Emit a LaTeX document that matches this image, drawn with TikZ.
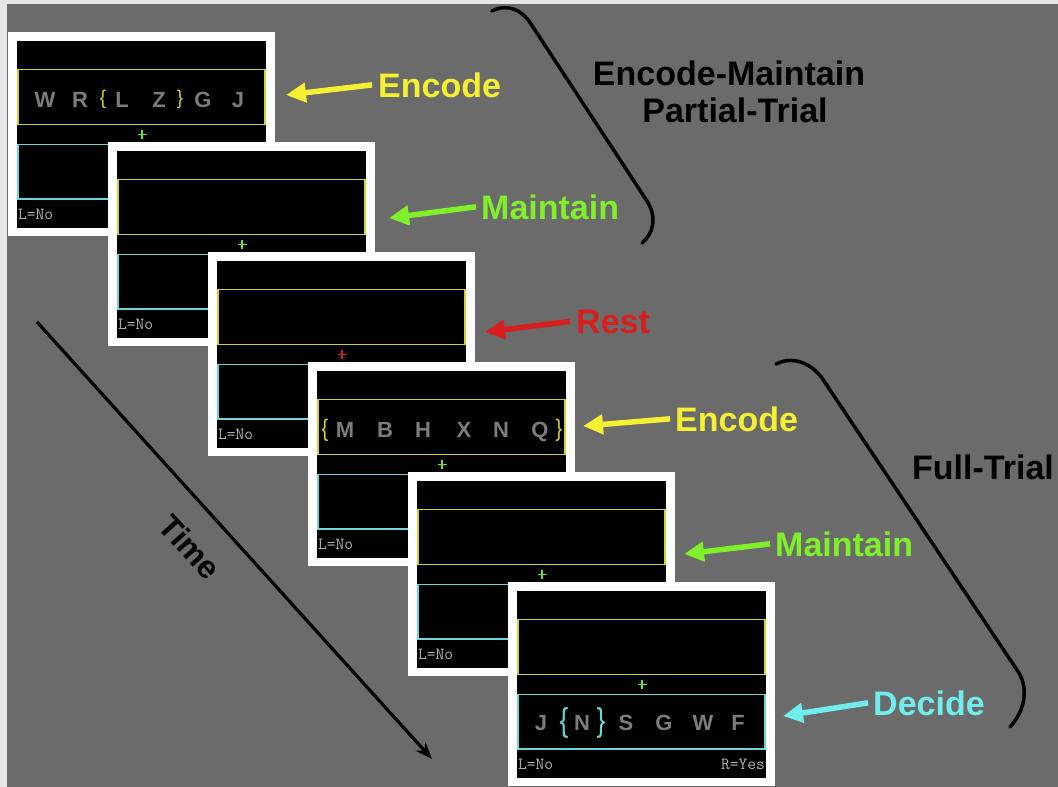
\documentclass[tikz,border=0pt]{standalone}
\usepackage{fontspec}
\usepackage{graphicx}
\setmainfont{Liberation Sans}
\usetikzlibrary{arrows.meta}
\definecolor{bg}{HTML}{6B6B6B}
\definecolor{edge}{HTML}{E6E6E6}
\definecolor{labyellow}{HTML}{F5F032}
\definecolor{labgreen}{HTML}{80F02A}
\definecolor{labred}{HTML}{D71E1E}
\definecolor{labcyan}{HTML}{70EEEE}
\definecolor{boxyellow}{HTML}{D2D22A}
\definecolor{boxcyan}{HTML}{6AD6DA}
\definecolor{plusgreen}{HTML}{6EE628}
\definecolor{plusred}{HTML}{E02020}
\definecolor{lettergray}{HTML}{7C7C7C}
\definecolor{smallgray}{HTML}{B4B4B4}

\newcommand\drawscreen[4]{%
\begin{scope}[shift={#2}]
 \coordinate (#1) at (0,0);
 \fill[white] (0,0) rectangle (267,204);
 \fill[black] (9,9) rectangle (258,196);
 \draw[boxyellow, line width=1.8pt] (9.9,37.5) rectangle (257.1,92.5);
 \draw[boxcyan, line width=1.8pt] (9.9,112.5) rectangle (257.1,167);
 \draw[#3, line width=1.7pt] (129.5,102.5) -- (138.5,102.5) (134,98) -- (134,107);
 \node[small, anchor=west] (#1-no) at (10,182.5) {L=No};
 #4
\end{scope}}

\begin{document}
\begin{tikzpicture}[x=1pt,y=-1pt,
  lab/.style={inner sep=0, anchor=base west, font=\fontsize{34}{34}\selectfont\bfseries},
  big/.style={inner sep=0, anchor=base, text=black, font=\fontsize{34}{34}\selectfont\bfseries},
  point/.style={line width=5.5pt, -{Triangle[length=20pt,width=19pt]}},
  small/.style={inner sep=0, text=smallgray, font=\fontsize{17}{17}\selectfont\ttfamily},
  letter/.style={inner sep=0, anchor=base, text=lettergray, font=\fontsize{22}{22}\selectfont\bfseries},
  bracebox/.style={inner sep=0, anchor=center},
  curl/.style={line width=3.5pt, line cap=round, black}]
\useasboundingbox (0,0) rectangle (1058,787);
\fill[edge] (0,0) rectangle (1058,787);
\fill[bg] (7,4) rectangle (1058,787);

% screens
\drawscreen{s1}{(8,32)}{plusgreen}{%
  \foreach \ch/\xx [count=\i] in {W/37,R/72,L/114,Z/151,G/195,J/230}
    \node[letter] (s1l\i) at (\xx,75) {\ch};
  \node[bracebox, text=boxyellow, font=\fontsize{19}{19}\selectfont] (s1b1) at (95,67) {\scalebox{1}[1.05]{\{}};
  \node[bracebox, text=boxyellow, font=\fontsize{19}{19}\selectfont] (s1b2) at (172,67) {\scalebox{1}[1.05]{\}}};
}
\drawscreen{s2}{(108,142)}{plusgreen}{}
\drawscreen{s3}{(208,252)}{plusred}{}
\drawscreen{s4}{(308,362)}{plusgreen}{%
  \foreach \ch/\xx [count=\i] in {M/37,B/77,H/115,X/156,N/193,Q/232}
    \node[letter] (s4l\i) at (\xx,75) {\ch};
  \node[bracebox, text=boxyellow, font=\fontsize{20}{20}\selectfont] (s4b1) at (17,68) {\scalebox{1}[1.2]{\{}};
  \node[bracebox, text=boxyellow, font=\fontsize{20}{20}\selectfont] (s4b2) at (251,68) {\scalebox{1}[1.2]{\}}};
}
\drawscreen{s5}{(408,472)}{plusgreen}{}
\drawscreen{s6}{(508,582)}{plusgreen}{%
  \foreach \ch/\xx [count=\i] in {J/33,N/74,S/118,G/156,W/195,F/230}
    \node[letter] (s6l\i) at (\xx,148.5) {\ch};
  \node[bracebox, text=boxcyan, font=\fontsize{22}{22}\selectfont] (s6b1) at (56,140.5) {\scalebox{1.2}[1.5]{\{}};
  \node[bracebox, text=boxcyan, font=\fontsize{22}{22}\selectfont] (s6b2) at (93,140.5) {\scalebox{1.2}[1.5]{\}}};
  \node[small, anchor=east] (s6-yes) at (257,182.5) {R=Yes};
}

% labels and arrows
\node[lab, text=labyellow] (enc1) at (378,97) {Encode};
\node[lab, text=labgreen] (mai1) at (481,219) {Maintain};
\node[lab, text=labred] (rest) at (576,333) {Rest};
\node[lab, text=labyellow] (enc2) at (675,431) {Encode};
\node[lab, text=labgreen] (mai2) at (775,556) {Maintain};
\node[lab, text=labcyan] (dec) at (873,715) {Decide};
\coordinate (t1) at (286,95);
\coordinate (t2) at (389,218);
\coordinate (t3) at (485,332);
\coordinate (t4) at (583,426);
\coordinate (t5) at (684,554);
\coordinate (t6) at (783,716);
\draw[point, labyellow] ([xshift=-6pt]enc1.west) -- (t1);
\draw[point, labgreen] ([xshift=-5pt]mai1.west) -- (t2);
\draw[point, labred] ([xshift=-6pt]rest.west) -- (t3);
\draw[point, labyellow] ([xshift=-5pt]enc2.west) -- (t4);
\draw[point, labgreen] ([xshift=-5pt]mai2.west) -- (t5);
\draw[point, labcyan] ([xshift=-5pt]dec.west) -- (t6);

% brackets and group labels
\draw[curl] (492,11) .. controls (508,3) and (522,10) .. (531,24) -- (647,201) .. controls (657,217) and (654,233) .. (642,243);
\draw[curl] (776,364) .. controls (792,356) and (810,362) .. (822,378) -- (1019,673) .. controls (1029,690) and (1024,712) .. (1010,727);
\node[big] (em1) at (729,85) {Encode-Maintain};
\node[big] (em2) at (735,122) {Partial-Trial};
\node[big] (full) at (983,479) {Full-Trial};

% time axis
\coordinate (ts) at (37,322);
\coordinate (te) at (432,759);
\draw[line width=3.2pt, -{Stealth[length=17pt,width=13pt]}] (ts) -- (te);
\node[inner sep=0, rotate=-48, font=\fontsize{32}{32}\selectfont\bfseries] (time) at (190,547) {Time};
\end{tikzpicture}
\end{document}
